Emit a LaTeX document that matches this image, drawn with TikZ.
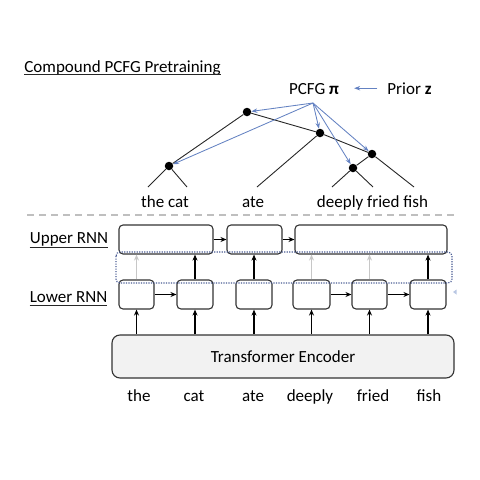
\documentclass[tikz,border=0pt]{standalone}
\usepackage{fontspec}
\setmainfont{Carlito}
\usetikzlibrary{arrows.meta}
\definecolor{pblue}{HTML}{6482C2}
\definecolor{dotblue}{HTML}{4A5C94}
\definecolor{tfill}{HTML}{F2F2F2}
\begin{document}
\begin{tikzpicture}[x=1pt,y=-1pt,
  txt/.style={font=\fontsize{17}{20}\selectfont, text=black, inner sep=0pt, anchor=base},
  rbox/.style={draw=black!80, line width=1.1pt, rounded corners=4pt, minimum height=29pt, inner sep=0pt},
  dot/.style={circle, fill=black, inner sep=0pt, minimum size=8.5pt},
  tree/.style={draw=black!85, line width=0.9pt},
  pcfgarr/.style={draw=pblue, line width=0.85pt, -{Stealth[length=6pt,width=4.5pt]}},
  arr/.style={line width=1.1pt, -{Stealth[length=6pt,width=5pt]}},
  garr/.style={arr, draw=black!22},
  uline/.style={draw=black!85, line width=0.9pt},
]
\useasboundingbox (0,0) rectangle (480,480);

% title
\node[txt] (title) at (122.5,72.5) {Compound PCFG Pretraining};
\draw[uline] ([yshift=-2pt]title.base west) -- ([yshift=-2pt]title.base east);

% PCFG / prior
\node[txt] (pcfg) at (314,94) {PCFG \textbf{π}};
\node[txt] (prior) at (409.5,94) {Prior \textbf{z}};
\draw[pcfgarr] ([xshift=-10pt]prior.west) -- ([xshift=15pt]prior.west -| pcfg.east);

% tree
\node[dot] (A) at (247,112) {};
\node[dot] (B) at (320,133) {};
\node[dot] (C) at (372,154) {};
\node[dot] (D) at (169,166) {};
\node[dot] (E) at (353,168) {};
\coordinate (l1) at (148,187);
\coordinate (l2) at (187,187);
\coordinate (l3) at (257,187);
\coordinate (l4) at (332,187);
\coordinate (l5) at (373,187);
\coordinate (l6) at (414,187);
\draw[tree] (A) -- (D);
\draw[tree] (A) -- (B);
\draw[tree] (B) -- (C);
\draw[tree] (C) -- (E);
\draw[tree] (D) -- (l1);
\draw[tree] (D) -- (l2);
\draw[tree] (B) -- (l3);
\draw[tree] (E) -- (l4);
\draw[tree] (E) -- (l5);
\draw[tree] (C) -- (l6);

\coordinate (o) at (313,103);
\draw[pcfgarr] (o) -- (A);
\draw[pcfgarr] (o) -- (D);
\draw[pcfgarr] (o) -- (B);
\draw[pcfgarr] (o) -- (C);
\draw[pcfgarr] (o) -- (E);

\node[txt] (w1) at (165,207.5) {the cat};
\node[txt] (w2) at (253,207.5) {ate};
\node[txt] (w3) at (372.5,207.5) {deeply fried fish};

% dashed separator
\draw[draw=black!25, line width=1.2pt, dash pattern=on 7pt off 5pt] (27,215) -- (457,215);

% labels
\node[txt] (ul) at (69,243.5) {Upper RNN};
\draw[uline] ([yshift=-3.5pt]ul.base west) -- ([yshift=-3.5pt]ul.base east);
\node[txt] (ll) at (68.5,302) {Lower RNN};
\draw[uline] ([yshift=-3pt]ll.base west) -- ([yshift=-3pt]ll.base east);

% upper boxes
\node[rbox, minimum width=94pt] (u1) at (166,239.5) {};
\node[rbox, minimum width=55pt] (u2) at (254.5,239.5) {};
\node[rbox, minimum width=152pt] (u3) at (371,239.5) {};
\draw[arr] (u1) -- (u2);
\draw[arr] (u2) -- (u3);

% lower boxes
\node[rbox, minimum width=35pt] (b1) at (136.5,294.5) {};
\node[rbox, minimum width=36pt] (b2) at (195,294.5) {};
\node[rbox, minimum width=36pt] (b3) at (254,294.5) {};
\node[rbox, minimum width=37pt] (b4) at (311.5,294.5) {};
\node[rbox, minimum width=35pt] (b5) at (369.5,294.5) {};
\node[rbox, minimum width=36pt] (b6) at (428,294.5) {};
\draw[arr] (b1) -- (b2);
\draw[arr] (b4) -- (b5);
\draw[arr] (b5) -- (b6);

% lower -> upper
\draw[garr] (b1.north) -- (b1.north |- u1.south);
\draw[arr] (b2.north) -- (b2.north |- u1.south);
\draw[arr] (b3.north) -- (b3.north |- u2.south);
\draw[garr] (b4.north) -- (b4.north |- u3.south);
\draw[garr] (b5.north) -- (b5.north |- u3.south);
\draw[arr] (b6.north) -- (b6.north |- u3.south);

% dotted rectangle
\draw[dotblue, line width=1.2pt, dash pattern=on 1.2pt off 1.3pt, rounded corners=4pt] (116,252) rectangle (452,283);
\fill[pblue!45] (453,292) -- (456.5,289.5) -- (456.5,294.5) -- cycle;

% transformer
\node[draw=black!80, line width=1.1pt, fill=tfill, rounded corners=8pt, minimum width=342pt, minimum height=43pt, inner sep=0pt] (tr) at (283,356.5) {};
\node[txt] (trl) at (283,362.5) {Transformer Encoder};
\foreach \b in {b1,b2,b3,b4,b5,b6}{
  \draw[arr] (\b.south |- tr.north) -- (\b.south);
}

% words
\node[txt] (x1) at (139,401.5) {the};
\node[txt] (x2) at (194,401.5) {cat};
\node[txt] (x3) at (253,401.5) {ate};
\node[txt] (x4) at (310,401.5) {deeply};
\node[txt] (x5) at (373,401.5) {fried};
\node[txt] (x6) at (429,401.5) {fish};
\end{tikzpicture}
\end{document}
